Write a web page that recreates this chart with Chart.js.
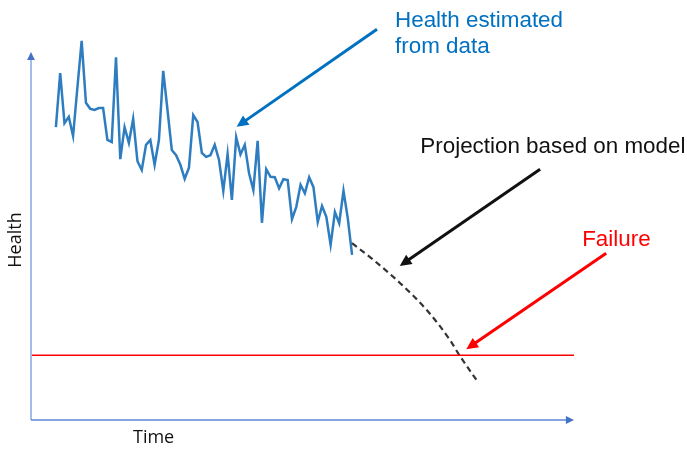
<!DOCTYPE html>
<html>
<head>
<meta charset="utf-8">
<script src="https://cdn.jsdelivr.net/npm/chart.js@4.4.1/dist/chart.umd.min.js"></script>
<style>
  html, body { margin: 0; padding: 0; background: #fff; }
  #wrap { width: 687px; height: 449px; }
</style>
</head>
<body>
<div id="wrap"><canvas id="chartHealth"></canvas></div>
<script>
// measured health, one sample per time step
const healthStart = 5.8;
const healthValues = [
  73.2, 86.7, 74.2, 75.8, 71.0, 83.0, 94.8, 79.3, 77.8, 77.5,
  78.0, 78.0, 70.0, 69.5, 90.7, 65.2, 73.2, 69.3, 75.3, 64.7,
  62.5, 68.8, 70.0, 63.8, 70.0, 87.3, 77.5, 67.5, 66.2, 63.8,
  60.3, 63.1, 76.2, 74.5, 66.8, 65.8, 66.2, 68.8, 65.0, 57.3,
  66.5, 55.0, 70.7, 66.4, 68.8, 61.7, 57.5, 69.8, 49.3, 62.7,
  60.8, 60.7, 57.9, 60.2, 60.0, 50.2, 53.3, 58.8, 56.7, 60.7,
  58.2, 49.5, 53.5, 50.8, 43.8, 52.0, 49.2, 57.3, 50.4, 41.3
];

// model projection
const projTime = [74.8, 79.8, 86.0, 92.2, 97.6, 99.8, 104.3];
const projHealth = [44.2, 40.0, 34.2, 27.5, 20.0, 16.2, 9.2];

// failure threshold
const failureLevel = 16.2;
const timeMax = 126.5;
const healthMax = 100;
const axisTop = 92;

const healthPoints = healthValues.map(function (v, i) { return { x: healthStart + i, y: v }; });
const projPoints = projTime.map(function (t, i) { return { x: t, y: projHealth[i] }; });
const failurePoints = [{ x: 0, y: failureLevel }, { x: timeMax, y: failureLevel }];

// callouts: text + arrow (tail -> tip) in data units
const callouts = [
  { lines: ['Health estimated', 'from data'], color: '#0070C0', at: [84.8, 98.3], from: [80.6, 97.7], to: [47.9, 73.3] },
  { lines: ['Projection based on model'], color: '#111111', at: [90.7, 66.75], from: [118.6, 62.7], to: [85.9, 38.5] },
  { lines: ['Failure'], color: '#FF0000', at: [128.4, 43.5], from: [134.0, 41.7], to: [101.4, 17.7] }
];

function arrow(ctx, x1, y1, x2, y2, color, width, head) {
  const a = Math.atan2(y2 - y1, x2 - x1);
  ctx.save();
  ctx.strokeStyle = color;
  ctx.fillStyle = color;
  ctx.lineWidth = width;
  ctx.beginPath();
  ctx.moveTo(x1, y1);
  ctx.lineTo(x2 - Math.cos(a) * head * 0.8, y2 - Math.sin(a) * head * 0.8);
  ctx.stroke();
  ctx.beginPath();
  ctx.moveTo(x2, y2);
  ctx.lineTo(x2 - head * Math.cos(a - 0.45), y2 - head * Math.sin(a - 0.45));
  ctx.lineTo(x2 - head * Math.cos(a + 0.45), y2 - head * Math.sin(a + 0.45));
  ctx.closePath();
  ctx.fill();
  ctx.restore();
}

const decorPlugin = {
  id: 'decor',
  afterDraw: function (chart) {
    const ctx = chart.ctx;
    const xs = chart.scales.x, ys = chart.scales.y;
    const x0 = xs.getPixelForValue(0), y0 = ys.getPixelForValue(0);

    // axes
    ctx.save();
    ctx.lineWidth = 2;
    ctx.strokeStyle = '#A4BDE8';
    ctx.beginPath();
    ctx.moveTo(x0, y0);
    ctx.lineTo(x0, ys.getPixelForValue(axisTop) + 6);
    ctx.stroke();
    ctx.lineWidth = 1.6;
    ctx.strokeStyle = '#5B87D6';
    ctx.beginPath();
    ctx.moveTo(x0, y0);
    ctx.lineTo(xs.getPixelForValue(timeMax) - 6, y0);
    ctx.stroke();
    ctx.restore();
    arrow(ctx, x0, ys.getPixelForValue(axisTop) + 8, x0, ys.getPixelForValue(axisTop), '#4472C4', 1, 9);
    arrow(ctx, xs.getPixelForValue(timeMax) - 8, y0, xs.getPixelForValue(timeMax), y0, '#4472C4', 1, 9);

    // axis titles
    ctx.save();
    ctx.fillStyle = '#111';
    ctx.font = '18px "Open Sans", sans-serif';
    ctx.textBaseline = 'alphabetic';
    ctx.fillText('Time', 133, 443);
    ctx.translate(21, 240);
    ctx.rotate(-Math.PI / 2);
    ctx.textAlign = 'center';
    ctx.fillText('Health', 0, 0);
    ctx.restore();

    // callouts
    callouts.forEach(function (c) {
      ctx.save();
      ctx.fillStyle = c.color;
      ctx.font = '22.4px "Liberation Sans", Arial, sans-serif';
      const tx = xs.getPixelForValue(c.at[0]), ty = ys.getPixelForValue(c.at[1]);
      c.lines.forEach(function (l, i) { ctx.fillText(l, tx, ty + i * 26); });
      ctx.restore();
      arrow(ctx, xs.getPixelForValue(c.from[0]), ys.getPixelForValue(c.from[1]),
        xs.getPixelForValue(c.to[0]), ys.getPixelForValue(c.to[1]), c.color, 3, 13);
    });
  }
};

const configHealth = {
  type: 'scatter',
  data: {
    datasets: [
      { label: 'Failure', data: failurePoints, showLine: true, borderColor: '#FF0000', borderWidth: 1.5, pointRadius: 0 },
      { label: 'Projection', data: projPoints, showLine: true, borderColor: '#333333', borderWidth: 2.2, borderDash: [6, 4], pointRadius: 0, cubicInterpolationMode: 'monotone' },
      { label: 'Health', data: healthPoints, showLine: true, borderColor: '#2E7DC0', borderWidth: 2.5, pointRadius: 0, tension: 0 }
    ]
  },
  options: {
    responsive: true,
    maintainAspectRatio: false,
    animation: false,
    layout: { padding: { left: 31, right: 113, top: 20, bottom: 29 } },
    scales: {
      x: { type: 'linear', min: 0, max: timeMax, display: false },
      y: { type: 'linear', min: 0, max: healthMax, display: false }
    },
    plugins: {
      legend: { display: false },
      tooltip: { enabled: false }
    }
  },
  plugins: [decorPlugin]
};

var chartHealth = new Chart(document.getElementById('chartHealth'), configHealth);
</script>
</body>
</html>
